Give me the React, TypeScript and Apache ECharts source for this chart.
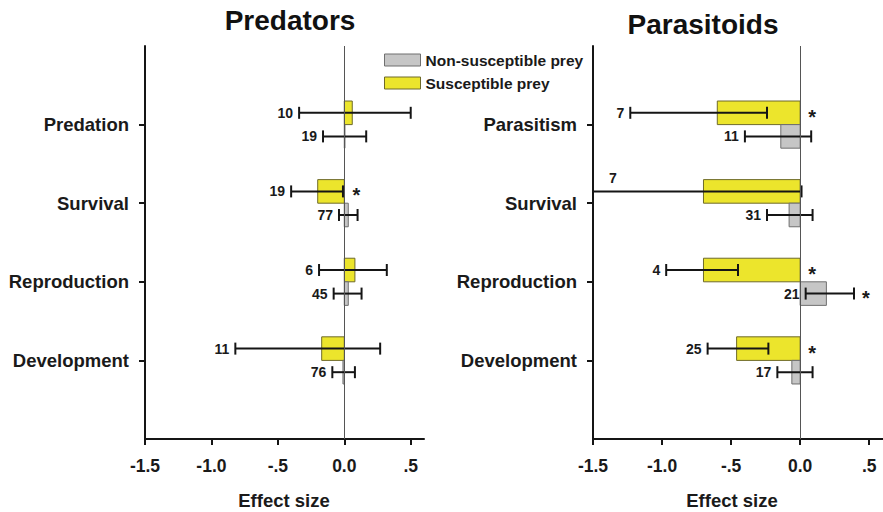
import React, { useEffect, useRef } from 'react';
import * as echarts from 'echarts';

const FONT = '"Liberation Sans", Arial, Helvetica, sans-serif';

const categories = ['Predation', 'Survival', 'Reproduction', 'Development'];
const categoriesRight = ['Parasitism', 'Survival', 'Reproduction', 'Development'];
const categoryPositions = [1, 2, 3, 4];

const xTickValues = [-1.5, -1, -0.5, 0, 0.5];
const xTickLabels = ['-1.5', '-1.0', '-.5', '0.0', '.5'];

// Predators
const predSuscMean = [0.06, -0.2, 0.08, -0.17];
const predSuscLow = [-0.34, -0.4, -0.19, -0.82];
const predSuscHigh = [0.5, -0.01, 0.32, 0.27];
const predSuscN = [10, 19, 6, 11];
const predSuscSig = [0, 1, 0, 0];

const predNonMean = [0.005, 0.03, 0.03, -0.01];
const predNonLow = [-0.16, -0.04, -0.08, -0.09];
const predNonHigh = [0.165, 0.1, 0.13, 0.08];
const predNonN = [19, 77, 45, 76];
const predNonSig = [0, 0, 0, 0];

// Parasitoids
const parSuscMean = [-0.6, -0.7, -0.7, -0.46];
const parSuscLow = [-1.23, -1.65, -0.97, -0.67];
const parSuscHigh = [-0.24, 0.01, -0.45, -0.23];
const parSuscN = [7, 7, 4, 25];
const parSuscSig = [1, 0, 1, 1];

const parNonMean = [-0.14, -0.08, 0.19, -0.06];
const parNonLow = [-0.4, -0.24, 0.04, -0.165];
const parNonHigh = [0.08, 0.09, 0.39, 0.09];
const parNonN = [11, 31, 21, 17];
const parNonSig = [0, 0, 1, 0];

const NON_NAME = 'Non-susceptible prey';
const SUSC_NAME = 'Susceptible prey';
const YELLOW = '#ece52c';
const YELLOW_BORDER = '#6e6a2a';
const GRAY = '#c6c6c6';
const GRAY_BORDER = '#6f6f6f';
const X_MIN = -1.5;
const X_MAX = 0.6;

function makeSeries(
  name: string,
  panel: number,
  group: 'susc' | 'non',
  means: number[],
  lows: number[],
  highs: number[],
  ns: number[],
  sigs: number[],
  color: string,
  border: string,
  withZero: boolean
) {
  const s: any = {
    type: 'custom',
    name,
    xAxisIndex: panel,
    yAxisIndex: panel,
    itemStyle: { color, borderColor: border, borderWidth: 1 },
    encode: { x: 1, y: 0 },
    data: categoryPositions.map((p, i) => [p, means[i], lows[i], highs[i], ns[i], sigs[i]]),
    renderItem: (params: any, api: any) => {
      const pos = api.value(0);
      const mean = api.value(1);
      const lo = api.value(2);
      const hi = api.value(3);
      const n = api.value(4);
      const sig = api.value(5);
      const off = group === 'susc' ? -0.3 : 0;
      const a = api.coord([0, pos + off]);
      const b = api.coord([mean, pos + off + 0.3]);
      const x0 = Math.min(a[0], b[0]);
      const w = Math.abs(b[0] - a[0]);
      const y0 = Math.min(a[1], b[1]);
      const h = Math.abs(b[1] - a[1]);
      const ym = y0 + h / 2;
      const clipped = lo < X_MIN;
      const xl = api.coord([clipped ? X_MIN : lo, pos])[0];
      const xh = api.coord([hi, pos])[0];
      const lineStyle = { stroke: '#151515', lineWidth: 2 };
      const children: any[] = [
        {
          type: 'rect',
          shape: { x: x0, y: y0, width: w, height: h },
          style: { fill: color, stroke: border, lineWidth: 1 },
        },
        { type: 'line', shape: { x1: xl, y1: ym, x2: xh, y2: ym }, style: lineStyle },
        { type: 'line', shape: { x1: xh, y1: ym - 6, x2: xh, y2: ym + 6 }, style: lineStyle },
      ];
      if (!clipped) {
        children.push({ type: 'line', shape: { x1: xl, y1: ym - 6, x2: xl, y2: ym + 6 }, style: lineStyle });
        children.push({
          type: 'text',
          x: xl - 6,
          y: ym,
          style: {
            text: String(n),
            align: 'right',
            verticalAlign: 'middle',
            font: `bold 14px ${FONT}`,
            fill: '#1a1a1a',
          },
        });
      } else {
        children.push({
          type: 'text',
          x: xl + 20,
          y: ym - 13,
          style: {
            text: String(n),
            align: 'center',
            verticalAlign: 'middle',
            font: `bold 14px ${FONT}`,
            fill: '#1a1a1a',
          },
        });
      }
      if (sig) {
        const xe = Math.max(xh, a[0], b[0]);
        children.push({
          type: 'text',
          x: xe + 12,
          y: ym + 4,
          style: {
            text: '*',
            align: 'center',
            verticalAlign: 'middle',
            font: `bold 20px ${FONT}`,
            fill: '#1a1a1a',
          },
        });
      }
      return { type: 'group', children };
    },
  };
  if (withZero) {
    s.markLine = {
      silent: true,
      symbol: 'none',
      animation: false,
      label: { show: false },
      lineStyle: { color: '#555', width: 1, type: 'solid' },
      data: [{ xAxis: 0 }],
    };
  }
  return s;
}

function xAxisFor(gridIndex: number) {
  return {
    type: 'value',
    gridIndex,
    min: X_MIN,
    max: X_MAX,
    interval: 0.5,
    splitLine: { show: false },
    axisLine: { show: true, onZero: false, lineStyle: { color: '#151515', width: 2 } },
    axisTick: { show: true, length: 6, lineStyle: { color: '#151515', width: 2 }, customValues: xTickValues },
    axisLabel: {
      customValues: xTickValues,
      margin: 18,
      fontFamily: FONT,
      fontWeight: 'bold',
      fontSize: 17.5,
      color: '#1a1a1a',
      formatter: (v: number) => {
        const i = xTickValues.findIndex((t) => Math.abs(t - v) < 1e-6);
        return i >= 0 ? xTickLabels[i] : '';
      },
    },
  };
}

function yAxisFor(gridIndex: number, names: string[]) {
  return {
    type: 'value',
    gridIndex,
    min: 0,
    max: 5,
    interval: 1,
    inverse: true,
    splitLine: { show: false },
    axisLine: { show: true, onZero: false, lineStyle: { color: '#151515', width: 2 } },
    axisTick: { show: true, length: 6, lineStyle: { color: '#151515', width: 2 }, customValues: categoryPositions },
    axisLabel: {
      customValues: categoryPositions,
      margin: 16,
      fontFamily: FONT,
      fontWeight: 'bold',
      fontSize: 18.5,
      color: '#1a1a1a',
      formatter: (v: number) => {
        const i = categoryPositions.indexOf(Math.round(v));
        return i >= 0 ? names[i] : '';
      },
    },
  };
}

export default function App() {
  const ref = useRef<HTMLDivElement>(null);
  useEffect(() => {
    if (!ref.current) return;
    const chart = echarts.init(ref.current, undefined, { renderer: 'svg' });
    const option: any = {
      animation: false,
      backgroundColor: '#ffffff',
      textStyle: { fontFamily: FONT },
      grid: [
        { left: 145, top: 46, width: 279, height: 393 },
        { left: 593, top: 46, right: -3, height: 393 },
      ],
      xAxis: [xAxisFor(0), xAxisFor(1)],
      yAxis: [yAxisFor(0, categories), yAxisFor(1, categoriesRight)],
      legend: {
        orient: 'vertical',
        left: 379,
        top: 47,
        itemWidth: 36,
        itemHeight: 12,
        itemGap: 7,
        icon: 'rect',
        textStyle: { fontFamily: FONT, fontWeight: 'bold', fontSize: 15.5, color: '#1a1a1a' },
        data: [
          { name: NON_NAME, itemStyle: { color: GRAY, borderColor: GRAY_BORDER, borderWidth: 1 } },
          { name: SUSC_NAME, itemStyle: { color: YELLOW, borderColor: YELLOW_BORDER, borderWidth: 1 } },
        ],
      },
      graphic: [
        { type: 'text', x: 290, y: 20, style: { text: 'Predators', align: 'center', verticalAlign: 'middle', font: `bold 28px ${FONT}`, fill: '#111' } },
        { type: 'text', x: 703, y: 24, style: { text: 'Parasitoids', align: 'center', verticalAlign: 'middle', font: `bold 28px ${FONT}`, fill: '#111' } },
        { type: 'text', x: 284, y: 500, style: { text: 'Effect size', align: 'center', verticalAlign: 'middle', font: `bold 18.5px ${FONT}`, fill: '#1a1a1a' } },
        { type: 'text', x: 732, y: 500, style: { text: 'Effect size', align: 'center', verticalAlign: 'middle', font: `bold 18.5px ${FONT}`, fill: '#1a1a1a' } },
      ],
      series: [
        makeSeries(SUSC_NAME, 0, 'susc', predSuscMean, predSuscLow, predSuscHigh, predSuscN, predSuscSig, YELLOW, YELLOW_BORDER, true),
        makeSeries(NON_NAME, 0, 'non', predNonMean, predNonLow, predNonHigh, predNonN, predNonSig, GRAY, GRAY_BORDER, false),
        makeSeries(SUSC_NAME, 1, 'susc', parSuscMean, parSuscLow, parSuscHigh, parSuscN, parSuscSig, YELLOW, YELLOW_BORDER, true),
        makeSeries(NON_NAME, 1, 'non', parNonMean, parNonLow, parNonHigh, parNonN, parNonSig, GRAY, GRAY_BORDER, false),
      ],
    };
    chart.setOption(option);
    return () => chart.dispose();
  }, []);
  return (
    <div
      ref={ref}
      style={{ position: 'fixed', left: 0, top: 0, width: 883, height: 512, background: '#fff' }}
    />
  );
}
